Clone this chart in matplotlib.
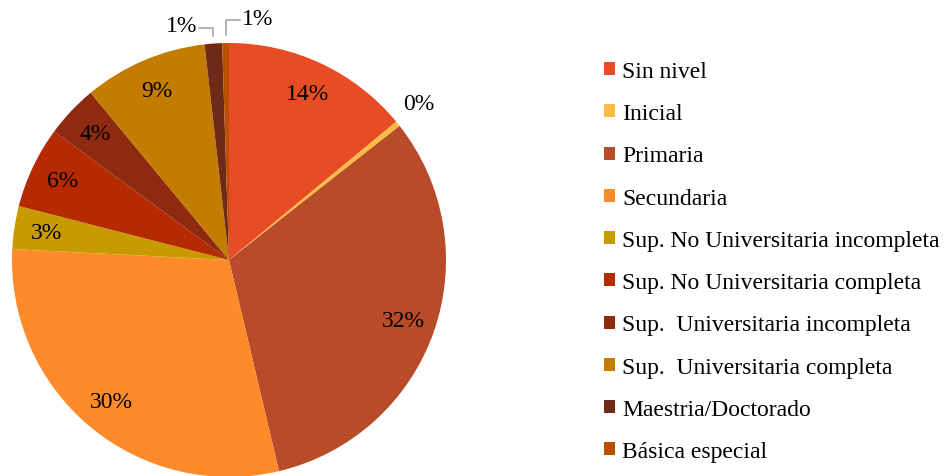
import matplotlib.pyplot as plt
import numpy as np
from matplotlib.patches import Patch

plt.rcParams['font.family'] = ['Liberation Serif', 'DejaVu Serif']

categories = ["Sin nivel", "Inicial", "Primaria", "Secundaria",
              "Sup. No Universitaria incompleta", "Sup. No Universitaria completa",
              "Sup.  Universitaria incompleta", "Sup.  Universitaria completa",
              "Maestria/Doctorado", "Básica especial"]
values = [14.0, 0.4, 31.9, 29.5, 3.2, 6.1, 3.9, 9.2, 1.3, 0.5]
labels = ["14%", "0%", "32%", "30%", "3%", "6%", "4%", "9%", "1%", "1%"]
colors = ["#E84C25", "#FBBB45", "#B84B28", "#FF8A2A", "#C99A00",
          "#B52A00", "#8E2A10", "#C47C00", "#6E2A16", "#B85000"]

fig = plt.figure(figsize=(9.51, 4.77), dpi=100)
ax = fig.add_axes([12 / 951, -1 / 477, 434 / 951, 434 / 477])

wedges, _ = ax.pie(values, colors=colors, startangle=90, counterclock=False,
                   radius=1.0, wedgeprops=dict(linewidth=0))
ax.set_xlim(-1, 1)
ax.set_ylim(-1, 1)
ax.set_aspect('equal')
ax.axis('off')

fs = 17
for i, w in enumerate(wedges):
    mid = np.deg2rad((w.theta1 + w.theta2) / 2)
    if values[i] >= 2:
        r = 0.85
        ax.text(r * np.cos(mid), r * np.sin(mid), labels[i], ha='center', va='center',
                fontsize=fs, color='black')

# small slices, outside labels
mid_ini = np.deg2rad((wedges[1].theta1 + wedges[1].theta2) / 2)
ax.text(1.1 * np.cos(mid_ini) + 0.02, 1.1 * np.sin(mid_ini) + 0.03, labels[1],
        ha='center', va='center', fontsize=fs, color='black')

for i, side in [(8, -1), (9, 1)]:
    mid = np.deg2rad((wedges[i].theta1 + wedges[i].theta2) / 2)
    x0, y0 = np.cos(mid), np.sin(mid)
    ytop = 1.07 if side < 0 else 1.105
    x1 = x0 + side * 0.065
    ax.plot([x0, x0, x1], [y0 + 0.035, ytop, ytop], color='#a6a6a6', lw=1.2,
            clip_on=False)
    ax.text(x1 + side * 0.01, ytop + 0.01, labels[i], ha='left' if side > 0 else 'right',
            va='center', fontsize=fs, color='black')

handles = [Patch(facecolor=c, edgecolor='none') for c in colors]
fig.legend(handles, categories, loc='upper left', bbox_to_anchor=(604 / 951, 1 - 62 / 477),
           frameon=False, fontsize=fs, handlelength=0.47, handleheight=0.47,
           handletextpad=0.3, labelspacing=0.9, borderaxespad=0, borderpad=0)

fig.savefig("out.png", dpi=100)
